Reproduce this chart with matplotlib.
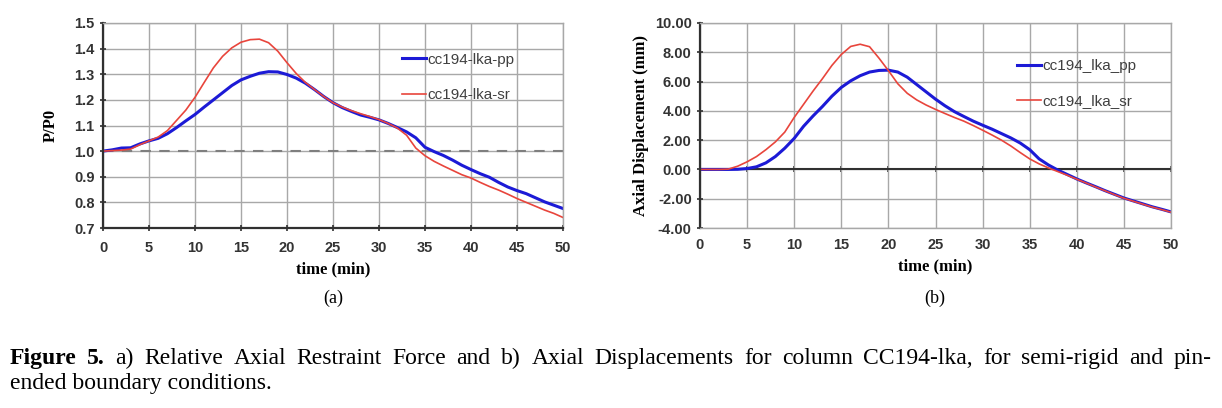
import matplotlib
matplotlib.use('Agg')
import matplotlib.pyplot as plt

# time axis (min)
t = list(range(0, 51))

# (a) relative axial restraint force P/P0
pp_force = [1.000, 1.005, 1.012, 1.013, 1.028, 1.040, 1.050, 1.068, 1.092, 1.118,
            1.143, 1.172, 1.200, 1.228, 1.256, 1.278, 1.292, 1.304, 1.310, 1.309,
            1.299, 1.285, 1.265, 1.240, 1.213, 1.189, 1.170, 1.155, 1.141, 1.132,
            1.122, 1.108, 1.092, 1.075, 1.052, 1.015, 0.998, 0.983, 0.965, 0.945,
            0.928, 0.912, 0.898, 0.878, 0.860, 0.846, 0.834, 0.818, 0.802, 0.789,
            0.776]
sr_force = [1.000, 1.002, 1.004, 1.008, 1.025, 1.040, 1.055, 1.080, 1.120, 1.160,
            1.210, 1.268, 1.325, 1.370, 1.403, 1.425, 1.435, 1.437, 1.423, 1.390,
            1.345, 1.303, 1.268, 1.240, 1.213, 1.189, 1.172, 1.158, 1.146, 1.135,
            1.123, 1.108, 1.090, 1.062, 1.012, 0.982, 0.960, 0.942, 0.925, 0.908,
            0.895, 0.878, 0.862, 0.848, 0.832, 0.815, 0.800, 0.785, 0.770, 0.757,
            0.741]

# (b) axial displacement (mm)
pp_disp = [0.0, 0.0, 0.0, 0.0, 0.01, 0.06, 0.18, 0.45, 0.88, 1.45,
           2.12, 2.95, 3.65, 4.30, 5.00, 5.60, 6.05, 6.40, 6.65, 6.76,
           6.78, 6.65, 6.30, 5.80, 5.30, 4.80, 4.35, 3.95, 3.62, 3.30,
           3.02, 2.75, 2.45, 2.15, 1.80, 1.35, 0.72, 0.30, -0.05, -0.35,
           -0.65, -0.92, -1.18, -1.45, -1.70, -1.95, -2.15, -2.35, -2.55, -2.72,
           -2.90]
sr_disp = [0.0, 0.0, 0.0, 0.02, 0.22, 0.52, 0.88, 1.35, 1.88, 2.55,
           3.55, 4.45, 5.35, 6.20, 7.10, 7.85, 8.40, 8.55, 8.38, 7.60,
           6.75, 5.85, 5.20, 4.75, 4.40, 4.10, 3.82, 3.55, 3.30, 3.00,
           2.68, 2.35, 2.00, 1.60, 1.15, 0.72, 0.38, 0.10, -0.15, -0.40,
           -0.67, -0.93, -1.20, -1.46, -1.72, -1.97, -2.17, -2.37, -2.57, -2.74,
           -2.92]

xticks = [0, 5, 10, 15, 20, 25, 30, 35, 40, 45, 50]
force_ticks = [0.7, 0.8, 0.9, 1.0, 1.1, 1.2, 1.3, 1.4, 1.5]
disp_ticks = [-4, -2, 0, 2, 4, 6, 8, 10]

BLUE = '#1c1ad6'
RED = '#e8453c'
GRID = '#a8a8a8'
DARK = '#303030'
TICKFONT = dict(family='Liberation Sans', weight='bold', size=10.5)
LABELFONT = dict(family='Liberation Serif', weight='bold', size=12)
LEGFONT = dict(family='Liberation Sans', size=11)

fig = plt.figure(figsize=(12.22, 4.08), dpi=100)
ax1 = fig.add_axes([103 / 1222, 1 - 228 / 408, 460 / 1222, 205 / 408])
ax2 = fig.add_axes([700 / 1222, 1 - 228 / 408, 471 / 1222, 205 / 408])


def style(ax):
    ax.grid(True, color=GRID, lw=1.0)
    ax.set_axisbelow(True)
    for s in ('top', 'right'):
        ax.spines[s].set_color(GRID)
        ax.spines[s].set_linewidth(1.0)
    for s in ('left', 'bottom'):
        ax.spines[s].set_color(DARK)
        ax.spines[s].set_linewidth(1.6)
    ax.tick_params(direction='inout', length=4, width=1.2, color=DARK,
                   labelcolor='#333333')
    ax.tick_params(axis='y', pad=4)
    ax.tick_params(axis='x', pad=7)
    ax.set_xlim(0, 50)
    ax.set_xticks(xticks)
    for lab in ax.get_xticklabels() + ax.get_yticklabels():
        lab.set(**TICKFONT)


# ---- (a)
ax1.set_ylim(0.7, 1.5)
ax1.set_yticks(force_ticks)
ax1.set_yticklabels([f'{v:.1f}' for v in force_ticks])
style(ax1)
ax1.axhline(1.0, color='#7f7f7f', lw=1.5, ls=(0, (5, 4)), zorder=1)
ax1.plot(t, pp_force, color=BLUE, lw=2.2, label='cc194-lka-pp')
ax1.plot(t, sr_force, color=RED, lw=1.2, label='cc194-lka-sr')
ax1.set_xlabel('time (min)', labelpad=5, **LABELFONT)
ax1.set_ylabel('P/P0', labelpad=11, **LABELFONT)
ax1.legend(loc='upper left', bbox_to_anchor=(0.649, 0.855), frameon=False,
           borderpad=0, borderaxespad=0, handlelength=1.6, handletextpad=0.1,
           labelspacing=1.4, prop=LEGFONT, labelcolor='#404040')

# ---- (b)
ax2.set_ylim(-4, 10)
ax2.set_yticks(disp_ticks)
ax2.set_yticklabels([f'{v:.2f}' for v in disp_ticks])
style(ax2)
ax2.spines['bottom'].set_color(GRID)
ax2.spines['bottom'].set_linewidth(1.0)
ax2.tick_params(axis='x', length=0)
ax2.axhline(0, color=DARK, lw=1.5, zorder=1.5)
ax2.plot(t, pp_disp, color=BLUE, lw=2.2, label='cc194_lka_pp')
ax2.plot(t, sr_disp, color=RED, lw=1.2, label='cc194_lka_sr')
# tick marks on the zero line
zero_ax = ax2.secondary_xaxis(0, transform=ax2.transData)
zero_ax.set_xticks(xticks)
zero_ax.tick_params(direction='inout', length=4, width=1.2, color=DARK,
                    labelbottom=False)
zero_ax.spines['bottom'].set_visible(False)
ax2.set_xlabel('time (min)', labelpad=5, **LABELFONT)
ax2.set_ylabel('Axial Displacement (mm)', labelpad=4, **LABELFONT)
ax2.legend(loc='upper left', bbox_to_anchor=(0.672, 0.825), frameon=False,
           borderpad=0, borderaxespad=0, handlelength=1.6, handletextpad=0.1,
           labelspacing=1.4, prop=LEGFONT, labelcolor='#404040')

# ---- sub captions and figure caption
fig.text(333 / 1222, 1 - 298 / 408, '(a)', ha='center', va='center',
         family='Liberation Serif', size=13)
fig.text(935 / 1222, 1 - 298 / 408, '(b)', ha='center', va='center',
         family='Liberation Serif', size=13)

cap_size = 17
line1 = ('Figure 5. a) Relative Axial Restraint Force and b) Axial Displacements '
         'for column CC194-lka, for semi-rigid and pin-').split()
line2 = 'ended boundary conditions.'
r = fig.canvas.get_renderer()
words = []
for i, w in enumerate(line1):
    words.append(fig.text(0, 1 - 364 / 408, w, va='baseline', ha='left',
                          family='Liberation Serif', size=cap_size,
                          weight='bold' if i < 2 else 'normal'))
widths = [w.get_window_extent(r).width for w in words]
x_left, x_right = 10.0, 1212.0
gap = (x_right - x_left - sum(widths)) / (len(words) - 1)
x = x_left
for w, wd in zip(words, widths):
    w.set_x(x / 1222)
    x += wd + gap
fig.text(10 / 1222, 1 - 389 / 408, line2, va='baseline', ha='left',
         family='Liberation Serif', size=cap_size)

fig.savefig('out.png', dpi=100)
